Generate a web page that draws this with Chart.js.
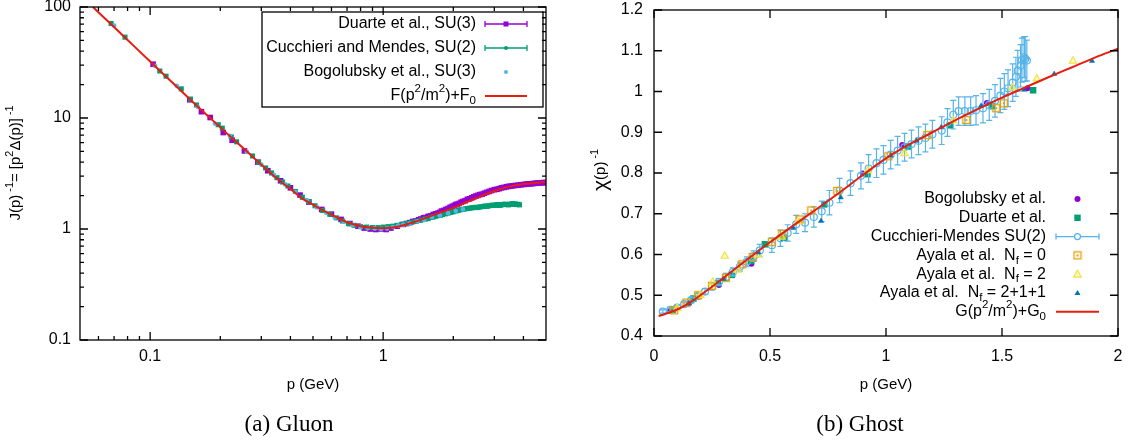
<!DOCTYPE html>
<html lang="en">
<head>
<meta charset="UTF-8" />
<title>Gluon and ghost</title>
<script src="https://cdn.jsdelivr.net/npm/chart.js"></script>
<style>
  body { margin: 0; background: #fff; width: 1130px; height: 441px; overflow: hidden; position: relative; }
  .panel { position: absolute; top: 0; width: 565px; height: 441px; }
  #gluonBox { left: 0; }
  #ghostBox { left: 565px; }
</style>
</head>
<body>
<div class="panel" id="gluonBox"><canvas id="gluonChart"></canvas></div>
<div class="panel" id="ghostBox"><canvas id="ghostChart"></canvas></div>

<script>
// ---------- (a) gluon: J(p)^-1 vs p, log-log ----------
const duarteP = [0.103, 0.148, 0.166, 0.181, 0.206, 0.225, 0.254, 0.29, 0.32, 0.363, 0.40, 0.44, 0.48, 0.545, 0.60, 0.66, 0.72, 0.78, 0.83, 0.88, 0.93, 0.98, 1.03, 1.08, 1.15, 1.22, 1.26, 1.30, 1.34, 1.38, 1.42, 1.45, 1.49, 1.52, 1.56, 1.60, 1.64, 1.68, 1.72, 1.75, 1.78, 1.82, 1.86, 1.90, 1.94, 1.98, 2.02, 2.05, 2.08, 2.12, 2.16, 2.20, 2.25, 2.30, 2.35, 2.40, 2.45, 2.50, 2.55, 2.60, 2.66, 2.72, 2.78, 2.85, 2.92, 3.00, 3.08, 3.15, 3.22, 3.30, 3.38, 3.45, 3.52, 3.60, 3.70, 3.80, 3.90, 4.00, 4.10, 4.20, 4.30, 4.40, 4.50, 4.60, 4.70, 4.80, 4.90, 5.00];
const duarteJ = [30.5, 14.6, 11.4, 10.1, 7.4, 6.3, 5.05, 4.0, 3.35, 2.72, 2.35, 2.02, 1.75, 1.5, 1.36, 1.22, 1.12, 1.06, 1.02, 1.0, 0.99, 1.0, 0.99, 1.02, 1.06, 1.1, 1.12, 1.14, 1.17, 1.18, 1.21, 1.23, 1.26, 1.27, 1.3, 1.31, 1.35, 1.37, 1.39, 1.41, 1.45, 1.47, 1.5, 1.53, 1.57, 1.6, 1.63, 1.66, 1.67, 1.7, 1.74, 1.77, 1.8, 1.85, 1.87, 1.91, 1.95, 1.98, 2.01, 2.04, 2.06, 2.1, 2.14, 2.18, 2.22, 2.26, 2.28, 2.31, 2.35, 2.37, 2.4, 2.42, 2.43, 2.45, 2.47, 2.48, 2.5, 2.52, 2.53, 2.55, 2.55, 2.57, 2.58, 2.59, 2.6, 2.61, 2.62, 2.62];

const cmGluonP = [0.068, 0.078, 0.11, 0.117, 0.136, 0.149, 0.158, 0.196, 0.204, 0.223, 0.235, 0.275, 0.292, 0.313, 0.332, 0.35, 0.37, 0.39, 0.42, 0.45, 0.48, 0.51, 0.55, 0.59, 0.63, 0.67, 0.71, 0.75, 0.80, 0.85, 0.90, 0.95, 1.00, 1.05, 1.10, 1.15, 1.20, 1.26, 1.32, 1.38, 1.45, 1.52, 1.56, 1.60, 1.64, 1.68, 1.72, 1.76, 1.80, 1.85, 1.90, 1.95, 2.00, 2.05, 2.10, 2.15, 2.20, 2.25, 2.30, 2.35, 2.40, 2.45, 2.50, 2.55, 2.60, 2.65, 2.70, 2.75, 2.80, 2.85, 2.90, 2.95, 3.00, 3.05, 3.10, 3.15, 3.20, 3.25, 3.30, 3.35, 3.40, 3.45, 3.50, 3.55, 3.60, 3.65, 3.70, 3.75, 3.80, 3.85];
const cmGluonJ = [71, 53.5, 26.5, 23.8, 18.3, 14.8, 13.1, 8.7, 8.1, 6.75, 6.1, 4.55, 4.0, 3.55, 3.2, 2.9, 2.65, 2.44, 2.18, 1.93, 1.76, 1.62, 1.47, 1.36, 1.26, 1.18, 1.12, 1.08, 1.05, 1.04, 1.03, 1.03, 1.04, 1.05, 1.06, 1.08, 1.1, 1.12, 1.15, 1.17, 1.2, 1.23, 1.24, 1.27, 1.28, 1.3, 1.32, 1.33, 1.35, 1.37, 1.39, 1.41, 1.43, 1.45, 1.47, 1.49, 1.5, 1.52, 1.53, 1.54, 1.55, 1.56, 1.57, 1.56, 1.58, 1.59, 1.6, 1.61, 1.6, 1.62, 1.63, 1.64, 1.63, 1.65, 1.66, 1.63, 1.64, 1.66, 1.67, 1.67, 1.66, 1.65, 1.67, 1.68, 1.69, 1.67, 1.68, 1.66, 1.67, 1.65];

const bogGluonP = [0.07, 0.105, 0.13, 0.16, 0.19, 0.22, 0.26, 0.30, 0.34, 0.38, 0.42, 0.47, 0.52, 0.57, 0.62, 0.68, 0.74, 0.80, 0.86, 0.92, 0.98, 1.04, 1.10, 1.16, 1.22, 1.30, 1.40, 1.50, 1.62, 1.75, 1.90, 2.05, 2.20];
const bogGluonJ = [68, 29.5, 19.5, 12.6, 8.9, 6.9, 4.95, 3.8, 3.05, 2.52, 2.15, 1.82, 1.57, 1.4, 1.27, 1.16, 1.09, 1.04, 1.02, 1.01, 1.0, 1.01, 1.04, 1.07, 1.09, 1.12, 1.17, 1.21, 1.28, 1.33, 1.39, 1.45, 1.5];

const fitGluonP = [0.0568, 0.07, 0.08, 0.10, 0.12, 0.15, 0.18, 0.21, 0.25, 0.30, 0.35, 0.40, 0.45, 0.50, 0.55, 0.60, 0.65, 0.70, 0.80, 0.90, 1.00, 1.10, 1.20, 1.35, 1.50, 1.70, 2.00, 2.30, 2.70, 3.00, 3.50, 4.00, 4.50, 5.00];
const fitGluonJ = [100, 66, 50.5, 32.3, 22.5, 14.4, 10.1, 7.5, 5.4, 3.8, 2.85, 2.3, 1.88, 1.66, 1.47, 1.35, 1.24, 1.15, 1.06, 1.025, 1.015, 1.03, 1.07, 1.15, 1.24, 1.37, 1.55, 1.76, 2.02, 2.2, 2.42, 2.54, 2.6, 2.65];

const gluonXTicks = [0.1, 1];
const gluonXLabels = ['0.1', '1'];
const gluonYTicks = [0.1, 1, 10, 100];
const gluonYLabels = ['0.1', '1', '10', '100'];
const gluonLegend = ['Duarte et al., SU(3)', 'Cucchieri and Mendes, SU(2)', 'Bogolubsky et al., SU(3)', 'F(p^{2}/m^{2})+F_{0}'];

// ---------- (b) ghost: chi(p)^-1 vs p ----------
const bogGhostP = [0.07, 0.15, 0.28, 0.42, 0.90, 1.07, 1.435, 1.61];
const bogGhostY = [0.462, 0.48, 0.525, 0.577, 0.799, 0.869, 0.972, 1.008];

const duarteGhostP = [0.08, 0.17, 0.275, 0.335, 0.418, 0.478, 0.56, 0.734, 0.92, 1.095, 1.275, 1.456, 1.634];
const duarteGhostY = [0.464, 0.492, 0.529, 0.55, 0.584, 0.625, 0.641, 0.723, 0.797, 0.865, 0.917, 0.964, 1.003];

const cmGhostP = [0.038, 0.07, 0.10, 0.13, 0.16, 0.19, 0.22, 0.25, 0.28, 0.31, 0.34, 0.37, 0.40, 0.43, 0.456, 0.508, 0.545, 0.576, 0.613, 0.651, 0.689, 0.723, 0.756, 0.80, 0.847, 0.892, 0.925, 0.959, 0.989, 1.02, 1.05, 1.08, 1.11, 1.14, 1.17, 1.20, 1.24, 1.265, 1.29, 1.313, 1.34, 1.365, 1.388, 1.418, 1.445, 1.47, 1.493, 1.51, 1.526, 1.546, 1.56, 1.568, 1.58, 1.586, 1.595, 1.60, 1.607];
const cmGhostY = [0.46, 0.464, 0.47, 0.478, 0.488, 0.498, 0.509, 0.521, 0.533, 0.545, 0.557, 0.57, 0.582, 0.596, 0.61, 0.623, 0.64, 0.653, 0.674, 0.678, 0.692, 0.706, 0.727, 0.757, 0.775, 0.793, 0.811, 0.824, 0.832, 0.845, 0.855, 0.863, 0.871, 0.879, 0.886, 0.895, 0.904, 0.924, 0.943, 0.952, 0.952, 0.952, 0.954, 0.959, 0.967, 0.977, 0.99, 1.0, 1.008, 1.022, 1.036, 1.051, 1.063, 1.077, 1.084, 1.08, 1.076];
const cmGhostErr = [0.004, 0.004, 0.005, 0.005, 0.006, 0.006, 0.007, 0.008, 0.008, 0.009, 0.01, 0.011, 0.012, 0.013, 0.015, 0.018, 0.02, 0.02, 0.022, 0.022, 0.025, 0.025, 0.03, 0.03, 0.03, 0.032, 0.034, 0.035, 0.035, 0.035, 0.035, 0.034, 0.034, 0.034, 0.034, 0.034, 0.034, 0.034, 0.035, 0.035, 0.035, 0.035, 0.036, 0.036, 0.038, 0.04, 0.042, 0.044, 0.045, 0.046, 0.048, 0.05, 0.052, 0.054, 0.05, 0.055, 0.05];

const ayala0P = [0.087, 0.14, 0.19, 0.25, 0.31, 0.38, 0.425, 0.508, 0.553, 0.628, 0.678, 0.79, 1.01, 1.178, 1.346, 1.475, 1.508];
const ayala0Y = [0.463, 0.482, 0.5, 0.523, 0.543, 0.576, 0.594, 0.631, 0.651, 0.686, 0.708, 0.756, 0.841, 0.893, 0.93, 0.959, 0.971];

const ayala2P = [0.10, 0.20, 0.253, 0.305, 0.36, 0.45, 0.55, 0.62, 0.922, 1.08, 1.29, 1.545, 1.65, 1.806];
const ayala2Y = [0.468, 0.5, 0.532, 0.596, 0.562, 0.6, 0.643, 0.68, 0.806, 0.848, 0.928, 1.009, 1.031, 1.075];

const ayala4P = [0.15, 0.30, 0.45, 0.60, 0.72, 0.805, 1.02, 1.132, 1.238, 1.41, 1.595, 1.725, 1.888];
const ayala4Y = [0.48, 0.54, 0.605, 0.665, 0.682, 0.74, 0.843, 0.879, 0.912, 0.965, 1.004, 1.043, 1.075];

const fitGhostP = [0.02, 0.10, 0.15, 0.20, 0.26, 0.30, 0.40, 0.50, 0.60, 0.70, 0.80, 0.90, 1.00, 1.10, 1.20, 1.30, 1.40, 1.50, 1.60, 1.70, 1.80, 1.90, 2.00];
const fitGhostY = [0.449, 0.465, 0.48, 0.5, 0.525, 0.543, 0.587, 0.63, 0.671, 0.711, 0.752, 0.795, 0.836, 0.87, 0.9, 0.93, 0.958, 0.985, 1.01, 1.035, 1.059, 1.083, 1.105];

const ghostXTicks = [0, 0.5, 1, 1.5, 2];
const ghostXLabels = ['0', '0.5', '1', '1.5', '2'];
const ghostYTicks = [0.4, 0.5, 0.6, 0.7, 0.8, 0.9, 1.0, 1.1, 1.2];
const ghostYLabels = ['0.4', '0.5', '0.6', '0.7', '0.8', '0.9', '1', '1.1', '1.2'];
const ghostLegend = ['Bogolubsky et al.', 'Duarte et al.', 'Cucchieri-Mendes SU(2)', 'Ayala et al.  N_{f} = 0', 'Ayala et al.  N_{f} = 2', 'Ayala et al.  N_{f} = 2+1+1', 'G(p^{2}/m^{2})+G_{0}'];

// colours (gnuplot default palette)
const PURPLE = '#9400d3', GREEN = '#009e73', SKY = '#56b4e9', ORANGE = '#e69f00',
      YELLOW = '#f0e442', BLUE = '#0072b2', RED = '#e51e10';
const FONT = '"Liberation Sans", Arial, sans-serif';
const SERIF = '"Liberation Serif", "Times New Roman", serif';
const TXT = 16;

const pts = (xs, ys) => xs.map((x, i) => ({ x: x, y: ys[i] }));

// open square with a dot, used for Ayala Nf=0
const dotSquare = document.createElement('canvas');
dotSquare.width = 10; dotSquare.height = 10;
(function () {
  const c = dotSquare.getContext('2d');
  c.strokeStyle = ORANGE; c.lineWidth = 1.3;
  c.strokeRect(1.5, 1.5, 7, 7);
  c.fillStyle = ORANGE; c.fillRect(4, 4, 2, 2);
})();

// text with ^{sup}, _{sub} and ~{bigger}
function richParts(str) {
  const parts = [];
  const re = /([\^_~])\{([^}]*)\}/g;
  let last = 0, m;
  while ((m = re.exec(str))) {
    if (m.index > last) parts.push([str.slice(last, m.index), 0]);
    parts.push([m[2], m[1] === '^' ? 1 : m[1] === '_' ? -1 : 2]);
    last = re.lastIndex;
  }
  if (last < str.length) parts.push([str.slice(last), 0]);
  return parts;
}
function drawRich(ctx, str, x, y, align, size) {
  const parts = richParts(str);
  const sz = p => p[1] === 2 ? size * 1.4 : p[1] ? size * 0.72 : size;
  let w = 0;
  parts.forEach(p => { ctx.font = sz(p) + 'px ' + FONT; w += ctx.measureText(p[0]).width; });
  let cx = align === 'right' ? x - w : align === 'center' ? x - w / 2 : x;
  ctx.textAlign = 'left';
  ctx.textBaseline = 'middle';
  parts.forEach(p => {
    ctx.font = sz(p) + 'px ' + FONT;
    const dy = p[1] === 1 ? -0.42 * size : p[1] === -1 ? 0.32 * size : 0;
    ctx.fillText(p[0], cx, y + dy);
    cx += ctx.measureText(p[0]).width;
  });
}

function errSample(ctx, x0, x1, y, color, mark) {
  ctx.save();
  ctx.strokeStyle = color; ctx.fillStyle = color; ctx.lineWidth = 1.3;
  ctx.beginPath();
  ctx.moveTo(x0, y); ctx.lineTo(x1, y);
  ctx.moveTo(x0, y - 3); ctx.lineTo(x0, y + 3);
  ctx.moveTo(x1, y - 3); ctx.lineTo(x1, y + 3);
  ctx.stroke();
  const cx = (x0 + x1) / 2;
  if (mark === 'square') ctx.fillRect(cx - 2.5, y - 2.5, 5, 5);
  if (mark === 'dot') { ctx.beginPath(); ctx.arc(cx, y, 2, 0, Math.PI * 2); ctx.fill(); }
  if (mark === 'ring') { ctx.fillStyle = '#fff'; ctx.beginPath(); ctx.arc(cx, y, 3, 0, Math.PI * 2); ctx.fill(); ctx.stroke(); }
  ctx.restore();
}

// gnuplot-like frame, inward ticks, labels, titles, legend
function gnuFrame(cfg) {
  return {
    id: 'gnuFrame',
    beforeDatasetDraw(chart, args) {
      if (cfg.errorBars && args.index === cfg.errorBars.index) {
        const xs = chart.scales.x, ys = chart.scales.y, e = cfg.errorBars;
        const ctx = chart.ctx;
        ctx.save();
        ctx.strokeStyle = e.color; ctx.lineWidth = 1.2;
        ctx.beginPath();
        e.x.forEach((v, i) => {
          const px = xs.getPixelForValue(v);
          const y0 = ys.getPixelForValue(e.y[i] - e.err[i]);
          const y1 = ys.getPixelForValue(e.y[i] + e.err[i]);
          ctx.moveTo(px, y0); ctx.lineTo(px, y1);
          ctx.moveTo(px - 3, y0); ctx.lineTo(px + 3, y0);
          ctx.moveTo(px - 3, y1); ctx.lineTo(px + 3, y1);
        });
        ctx.stroke();
        ctx.restore();
      }
    },
    afterDraw(chart) {
      const ctx = chart.ctx, a = chart.chartArea;
      const xs = chart.scales.x, ys = chart.scales.y;
      ctx.save();
      ctx.strokeStyle = '#000'; ctx.fillStyle = '#000'; ctx.lineWidth = 1.3;
      ctx.strokeRect(a.left, a.top, a.right - a.left, a.bottom - a.top);

      const tick = (px, horiz, len) => {
        ctx.beginPath();
        if (horiz) {
          ctx.moveTo(px, a.bottom); ctx.lineTo(px, a.bottom - len);
          ctx.moveTo(px, a.top); ctx.lineTo(px, a.top + len);
        } else {
          ctx.moveTo(a.left, px); ctx.lineTo(a.left + len, px);
          ctx.moveTo(a.right, px); ctx.lineTo(a.right - len, px);
        }
        ctx.stroke();
      };
      const minors = (scale) => {
        const out = [];
        for (let d = Math.floor(Math.log10(scale.min)); d <= Math.ceil(Math.log10(scale.max)); d++) {
          for (let k = 2; k <= 9; k++) {
            const v = k * Math.pow(10, d);
            if (v > scale.min * 1.0001 && v < scale.max * 0.9999) out.push(v);
          }
        }
        return out;
      };
      cfg.xTicks.forEach(v => tick(xs.getPixelForValue(v), true, 8));
      cfg.yTicks.forEach(v => tick(ys.getPixelForValue(v), false, 8));
      if (cfg.log) {
        minors(xs).forEach(v => tick(xs.getPixelForValue(v), true, 4));
        minors(ys).forEach(v => tick(ys.getPixelForValue(v), false, 4));
      }

      ctx.fillStyle = '#000';
      cfg.xTicks.forEach((v, i) => drawRich(ctx, cfg.xLabels[i], xs.getPixelForValue(v), cfg.xLabelY, 'center', TXT));
      cfg.yTicks.forEach((v, i) => drawRich(ctx, cfg.yLabels[i], cfg.yLabelX, ys.getPixelForValue(v), 'right', TXT));

      drawRich(ctx, 'p (GeV)', (a.left + a.right) / 2, cfg.xTitleY, 'center', 15);
      ctx.save();
      ctx.translate(cfg.yTitle.x, cfg.yTitle.y);
      ctx.rotate(-Math.PI / 2);
      drawRich(ctx, cfg.yTitle.text, 0, 0, 'center', 15);
      ctx.restore();

      // legend
      const L = cfg.legend;
      if (L.box) {
        ctx.lineWidth = 1.3;
        ctx.strokeRect(L.box[0], L.box[1], L.box[2] - L.box[0], L.box[3] - L.box[1]);
      }
      L.labels.forEach((t, i) => {
        const y = L.y0 + i * L.dy;
        ctx.fillStyle = '#000';
        drawRich(ctx, t, L.textX, y, 'right', TXT);
        L.samples[i](ctx, L.s0, L.s1, y);
      });

      // caption
      ctx.fillStyle = '#000';
      ctx.font = '23px ' + SERIF;
      ctx.textAlign = 'center'; ctx.textBaseline = 'middle';
      ctx.fillText(cfg.caption.text, cfg.caption.x, cfg.caption.y);
      ctx.restore();
    }
  };
}

const lineSample = color => (ctx, x0, x1, y) => {
  ctx.save(); ctx.strokeStyle = color; ctx.lineWidth = 2;
  ctx.beginPath(); ctx.moveTo(x0, y); ctx.lineTo(x1, y); ctx.stroke(); ctx.restore();
};
const markSample = draw => (ctx, x0, x1, y) => {
  ctx.save(); draw(ctx, (x0 + x1) / 2, y); ctx.restore();
};

const common = {
  responsive: true,
  maintainAspectRatio: false,
  animation: false,
  events: [],
  plugins: { legend: { display: false }, tooltip: { enabled: false } }
};

// ---------- gluon chart ----------
new Chart(document.getElementById('gluonChart'), {
  type: 'scatter',
  data: {
    datasets: [
      { data: pts(duarteP, duarteJ), pointStyle: 'rect', pointRadius: 4, backgroundColor: PURPLE, borderColor: PURPLE, borderWidth: 0, order: 4 },
      { data: pts(cmGluonP, cmGluonJ), pointStyle: 'rect', pointRadius: 3.6, backgroundColor: GREEN, borderColor: GREEN, borderWidth: 0, order: 3 },
      { data: pts(bogGluonP, bogGluonJ), pointStyle: 'circle', pointRadius: 2.4, backgroundColor: SKY, borderColor: SKY, borderWidth: 0, order: 2 },
      { type: 'line', data: pts(fitGluonP, fitGluonJ), borderColor: RED, borderWidth: 2, pointRadius: 0, cubicInterpolationMode: 'monotone', fill: false, order: 1 }
    ]
  },
  options: Object.assign({}, common, {
    layout: { padding: { left: 80, right: 19, top: 7, bottom: 101 } },
    scales: {
      x: { type: 'logarithmic', min: 0.05, max: 5, display: false },
      y: { type: 'logarithmic', min: 0.1, max: 100, display: false }
    }
  }),
  plugins: [gnuFrame({
    log: true,
    xTicks: gluonXTicks, xLabels: gluonXLabels, yTicks: gluonYTicks, yLabels: gluonYLabels,
    xLabelY: 357, yLabelX: 71, xTitleY: 385,
    yTitle: { text: 'J(p)^{ -1}= [p^{2}\u0394(p)]^{ -1}', x: 16, y: 163 },
    caption: { text: '(a) Gluon', x: 289, y: 425 },
    legend: {
      box: [262, 12, 543, 107], labels: gluonLegend, textX: 476, s0: 485, s1: 527, y0: 24, dy: 24,
      samples: [
        (ctx, x0, x1, y) => errSample(ctx, x0, x1, y, PURPLE, 'square'),
        (ctx, x0, x1, y) => errSample(ctx, x0, x1, y, GREEN, 'dot'),
        markSample((c, x, y) => { c.fillStyle = SKY; c.beginPath(); c.arc(x, y, 2, 0, Math.PI * 2); c.fill(); }),
        lineSample(RED)
      ]
    }
  })]
});

// ---------- ghost chart ----------
new Chart(document.getElementById('ghostChart'), {
  type: 'scatter',
  data: {
    datasets: [
      { data: pts(bogGhostP, bogGhostY), pointStyle: 'circle', pointRadius: 3, backgroundColor: PURPLE, borderWidth: 0, order: 7 },
      { data: pts(duarteGhostP, duarteGhostY), pointStyle: 'rect', pointRadius: 4.6, backgroundColor: GREEN, borderWidth: 0, order: 6 },
      { data: pts(cmGhostP, cmGhostY), pointStyle: 'circle', pointRadius: 3.5, backgroundColor: 'rgba(255,255,255,0)', borderColor: SKY, borderWidth: 1.2, order: 5 },
      { data: pts(ayala0P, ayala0Y), pointStyle: dotSquare, order: 4 },
      { data: pts(ayala2P, ayala2Y), pointStyle: 'triangle', pointRadius: 4.2, backgroundColor: 'rgba(240,228,66,0.3)', borderColor: YELLOW, borderWidth: 1.2, order: 3 },
      { data: pts(ayala4P, ayala4Y), pointStyle: 'triangle', pointRadius: 3, backgroundColor: BLUE, borderColor: BLUE, borderWidth: 0.5, order: 2 },
      { type: 'line', data: pts(fitGhostP, fitGhostY), borderColor: RED, borderWidth: 2, pointRadius: 0, cubicInterpolationMode: 'monotone', fill: false, order: 1 }
    ]
  },
  options: Object.assign({}, common, {
    layout: { padding: { left: 89, right: 12, top: 10, bottom: 105 } },
    scales: {
      x: { type: 'linear', min: 0, max: 2, display: false },
      y: { type: 'linear', min: 0.4, max: 1.2, display: false }
    }
  }),
  plugins: [gnuFrame({
    log: false,
    xTicks: ghostXTicks, xLabels: ghostXLabels, yTicks: ghostYTicks, yLabels: ghostYLabels,
    xLabelY: 357, yLabelX: 78, xTitleY: 385,
    yTitle: { text: '~{\u03c7}(p)^{ -1}', x: 36, y: 170 },
    caption: { text: '(b) Ghost', x: 295, y: 425 },
    errorBars: { index: 2, x: cmGhostP, y: cmGhostY, err: cmGhostErr, color: SKY },
    legend: {
      box: null, labels: ghostLegend, textX: 481, s0: 491, s1: 534, y0: 199, dy: 18.8,
      samples: [
        markSample((c, x, y) => { c.fillStyle = PURPLE; c.beginPath(); c.arc(x, y, 3, 0, Math.PI * 2); c.fill(); }),
        markSample((c, x, y) => { c.fillStyle = GREEN; c.fillRect(x - 3.2, y - 3.2, 6.4, 6.4); }),
        (ctx, x0, x1, y) => errSample(ctx, x0, x1, y, SKY, 'ring'),
        markSample((c, x, y) => { c.drawImage(dotSquare, x - 5, y - 5); }),
        markSample((c, x, y) => {
          c.fillStyle = 'rgba(240,228,66,0.3)'; c.strokeStyle = YELLOW; c.lineWidth = 1.2;
          c.beginPath(); c.moveTo(x, y - 4); c.lineTo(x + 4, y + 3); c.lineTo(x - 4, y + 3); c.closePath(); c.fill(); c.stroke();
        }),
        markSample((c, x, y) => {
          c.fillStyle = BLUE;
          c.beginPath(); c.moveTo(x, y - 3); c.lineTo(x + 3, y + 2); c.lineTo(x - 3, y + 2); c.closePath(); c.fill();
        }),
        lineSample(RED)
      ]
    }
  })]
});
</script>
</body>
</html>
